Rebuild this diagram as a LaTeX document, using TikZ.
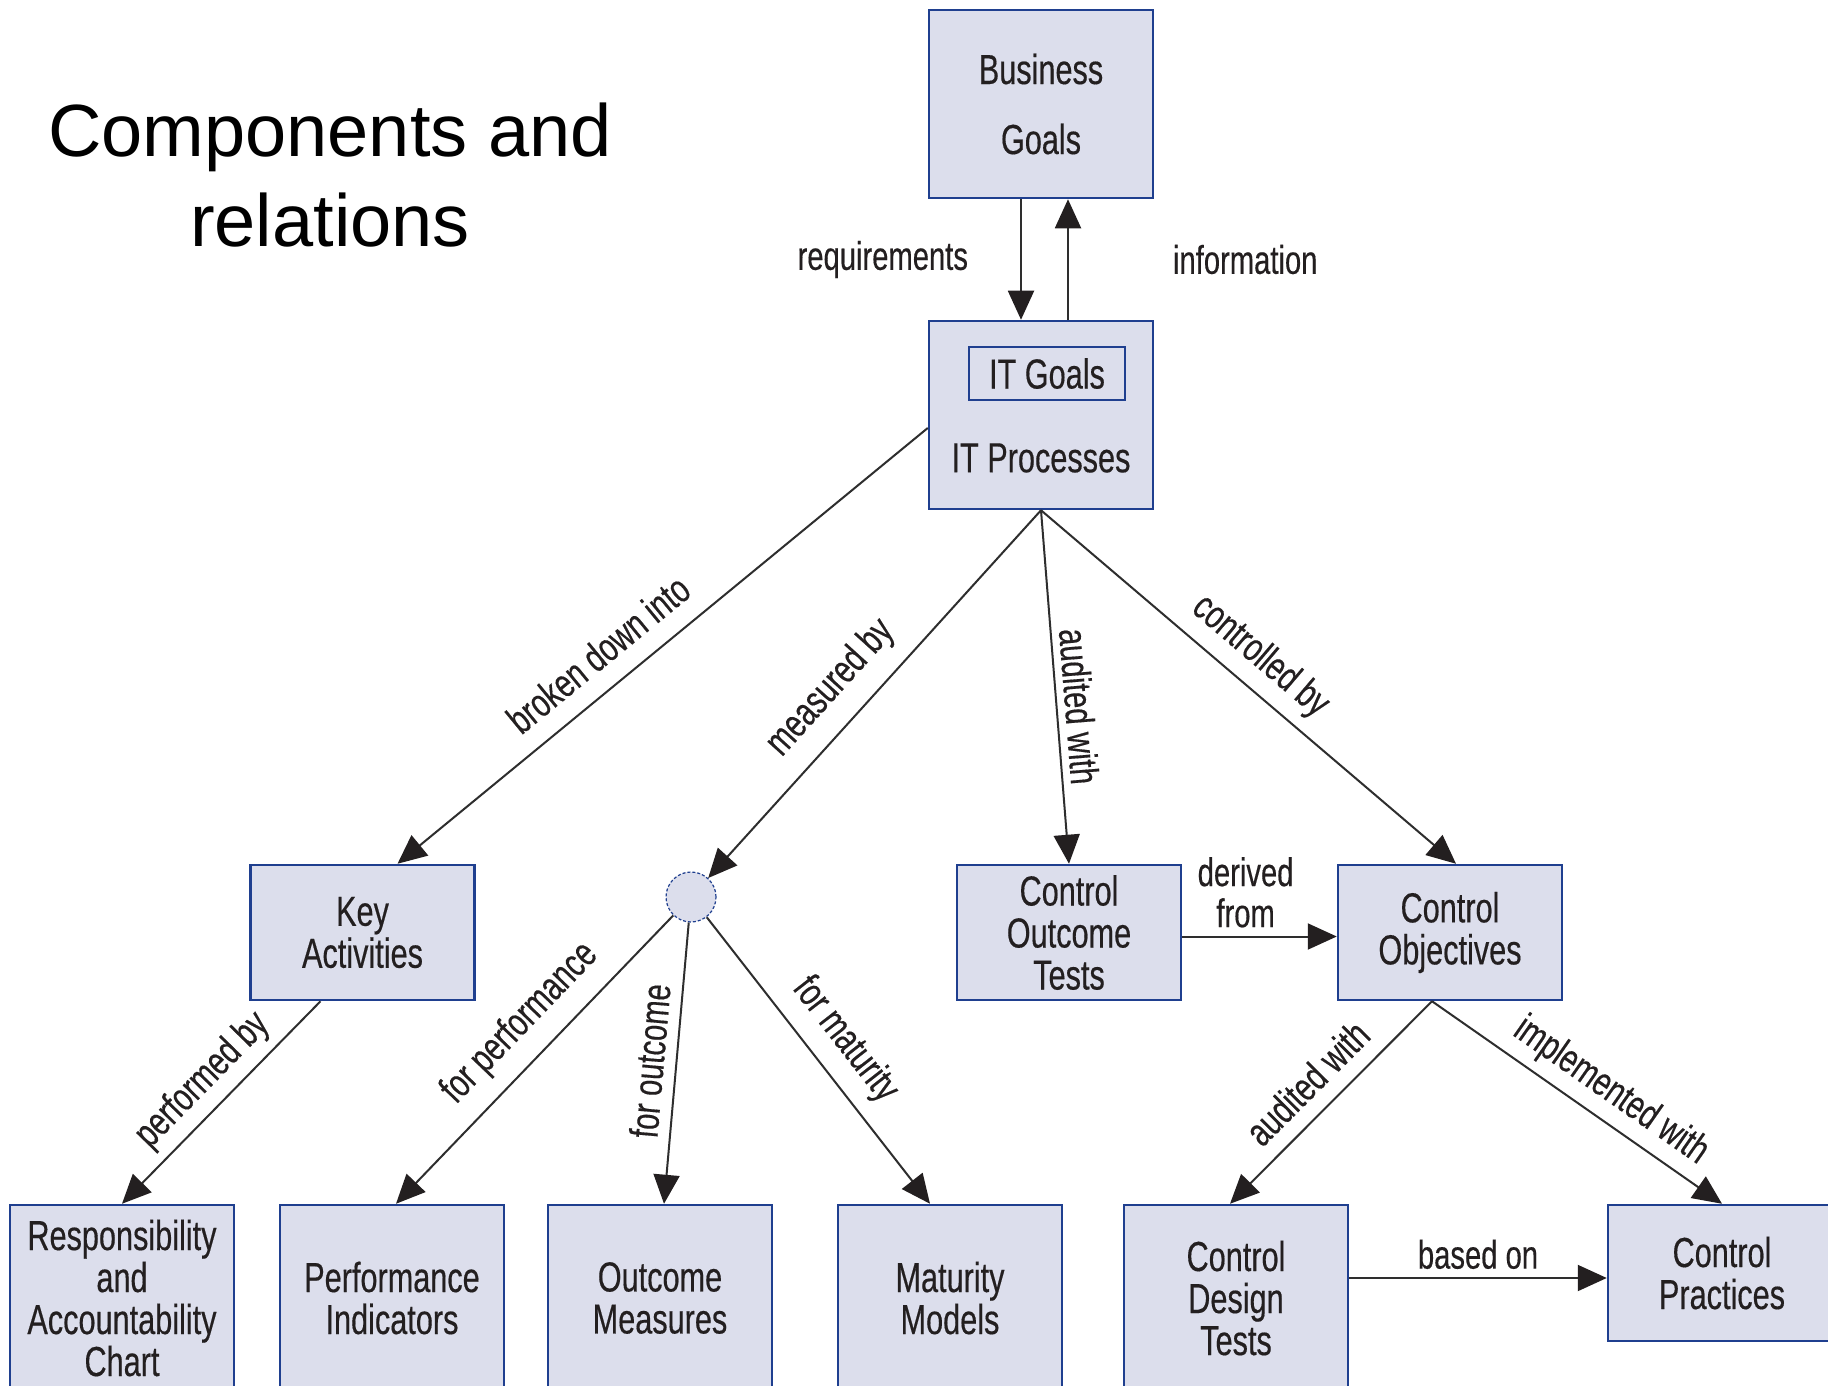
\documentclass[tikz,border=0pt]{standalone}
\usepackage{fontspec}
\setmainfont{Liberation Sans}[FakeStretch=0.73,FakeBold=0.35]
\newfontfamily\titlefont{Liberation Sans}
\usetikzlibrary{arrows.meta}
\definecolor{boxfill}{HTML}{DCDEEC}
\definecolor{boxline}{HTML}{1F3F8F}
\definecolor{ink}{HTML}{231F20}
\definecolor{wire}{HTML}{2E2E2E}

\begin{document}
\begin{tikzpicture}[x=1bp,y=-1bp,
  box/.style={draw=boxline, line width=2.5bp, fill=boxfill, minimum width=224bp,
    inner sep=0pt, align=center, text=ink, font=\fontsize{42bp}{42bp}\selectfont},
  hubnode/.style={circle, draw=boxline, densely dashed, line width=1.2bp, fill=boxfill,
    minimum size=50bp, inner sep=0pt},
  conn/.style={draw=wire, line width=2bp, -{Triangle[length=29bp,width=26bp,color=ink]}},
  lbl/.style={text=ink, font=\fontsize{40bp}{41bp}\selectfont},
]
% canvas
\fill[white] (0,0) rectangle (1828,1386);
\useasboundingbox (0,0) rectangle (1828,1386);
\clip (0,0) rectangle (1828,1386);

% title
\node[font=\titlefont\fontsize{74bp}{90bp}\selectfont, align=center, text=black, inner sep=0pt]
  (title) at (330,175) {Components and\\relations};

% top: goals and processes
\node[box, minimum height=188bp, font=\fontsize{42bp}{70bp}\selectfont] (bg) at (1041,104) {Business\\Goals};
\node[box, minimum height=188bp] (it) at (1041,415) {};
\node[box, minimum width=156bp, minimum height=53bp, line width=2bp] (itg) at (1047,373.5) {IT Goals};
\node[text=ink, font=\fontsize{42bp}{42bp}\selectfont, inner sep=0pt] (itp) at (1041,458) {IT Processes};

% middle row
\node[box, minimum height=135bp] (key) at (362.5,932.5) {Key\\Activities};
\node[hubnode] (hub) at (691,897) {};
\node[box, minimum height=135bp] (cot) at (1069,932.5) {Control\\Outcome\\Tests};
\node[box, minimum height=135bp] (cob) at (1450,932.5) {Control\\Objectives};

% bottom row
\node[box, minimum height=186bp] (resp) at (122,1298) {Responsibility\\and\\Accountability\\Chart};
\node[box, minimum height=186bp] (perf) at (392,1298) {Performance\\Indicators};
\node[box, minimum height=186bp] (outc) at (660,1298) {Outcome\\Measures};
\node[box, minimum height=186bp] (mat) at (950,1298) {Maturity\\Models};
\node[box, minimum height=186bp] (cdt) at (1236,1298) {Control\\Design\\Tests};
\node[box, minimum height=136bp, minimum width=228bp] (cp) at (1722,1273) {Control\\Practices};

% relations
\draw[conn] ([xshift=-20bp]bg.south) -- ([xshift=-20bp]it.north)
  node[lbl, midway, left=52bp, inner sep=0pt] {requirements};
\draw[conn] ([xshift=27bp]it.north) -- ([xshift=27bp]bg.south)
  node[lbl, midway, right=104bp, inner sep=0pt] {information};

\draw[conn] ([yshift=-13bp]it.west) -- ([xshift=35bp]key.north)
  node[lbl, sloped, above, pos=.58, inner sep=19bp] {broken down into};
\draw[conn] (it.south) -- (hub)
  node[lbl, sloped, above, pos=.55, inner sep=17bp] {measured by};
\draw[conn] (it.south) -- (cot.north)
  node[lbl, sloped, above, pos=.56, inner sep=7bp] {audited with};
\draw[conn] (it.south) -- ([xshift=6bp]cob.north)
  node[lbl, sloped, above, pos=.48, inner sep=11bp] {controlled by};

\draw[conn] ([xshift=-42bp]key.south) -- (resp.north)
  node[lbl, sloped, above, pos=.49, inner sep=9bp] {performed by};
\draw[conn] (hub) -- ([xshift=4bp]perf.north)
  node[lbl, sloped, above, pos=.46, inner sep=16bp] {for performance};
\draw[conn] (hub) -- ([xshift=4bp]outc.north)
  node[lbl, sloped, above, pos=.5, inner sep=11bp] {for outcome};
\draw[conn] (hub) -- ([xshift=-20bp]mat.north)
  node[lbl, sloped, above, pos=.5, inner sep=14bp] {for maturity};

\draw[conn] ([yshift=-4bp]cot.east) -- ([yshift=-4bp]cob.west)
  node[lbl, above, pos=.41, align=center, inner sep=8bp] {derived\\from};
\draw[conn] ([xshift=-18bp]cob.south) -- ([xshift=-6bp]cdt.north)
  node[lbl, sloped, above, pos=.51, inner sep=15bp] {audited with};
\draw[conn] ([xshift=-18bp]cob.south) -- (cp.north)
  node[lbl, sloped, above, pos=.56, inner sep=9bp] {implemented with};
\coordinate (bon) at ([yshift=-5bp]cp.west);
\draw[conn] (cdt.east |- bon) -- (bon)
  node[lbl, above, midway, inner sep=8bp] {based on};
\end{tikzpicture}
\end{document}
